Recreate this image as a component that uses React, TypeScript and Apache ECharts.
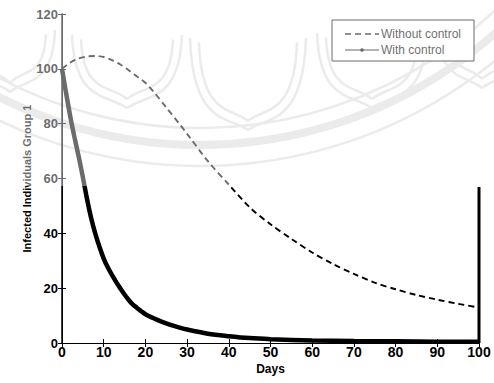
import React, { useEffect, useRef } from "react";
import * as echarts from "echarts";

// Infected individuals in group 1 over 100 days
const daysWithout = [0, 2, 4, 6, 8, 10, 12, 14, 16, 18, 20, 22, 25, 28, 30, 35, 40, 45, 50, 55, 60, 65, 70, 75, 80, 85, 90, 95, 100];
const withoutControl = [100, 102.3, 103.8, 104.5, 104.7, 104.3, 103.2, 101.6, 99.5, 97.2, 94.9, 91.6, 85.9, 80.2, 76.3, 66.3, 57.8, 49.5, 43.3, 38, 33, 28.8, 25.2, 22, 19.6, 17.5, 15.8, 14.3, 12.9];

const daysWith = [0, 1, 2, 3, 4, 5, 6, 7, 8, 9, 10, 11, 12, 13, 14, 15, 16, 17, 18, 19, 20, 22, 24, 26, 28, 30, 35, 40, 45, 50, 60, 70, 80, 90, 100];
const withControl = [100, 91, 82.5, 75, 68, 60.5, 52.5, 45.5, 39.8, 35, 30.8, 27.5, 24.8, 22.2, 19.9, 17.7, 15.7, 14, 12.8, 11.6, 10.5, 9.0, 7.7, 6.6, 5.7, 4.9, 3.4, 2.5, 1.8, 1.4, 0.9, 0.7, 0.6, 0.5, 0.5];

const seriesNames = ["Without control", "With control"];
const xTitle = "Days";
const yTitle = "Infected Individuals Group 1";

const FONT = "Liberation Sans, Arial, sans-serif";

// faint seal pattern in the upper background
function sealGraphics(): any[] {
  const stroke = "#dcdcdc";
  const els: any[] = [];
  const cx = 200;
  const cy = -300;
  [
    { r: 445, w: 8 },
    { r: 428, w: 2.5 },
    { r: 466, w: 2.5 },
  ].forEach((b) =>
    els.push({
      type: "arc",
      silent: true,
      z: 0,
      shape: { cx, cy, r: b.r, startAngle: 0.6, endAngle: 2.55 },
      style: { stroke, lineWidth: b.w, fill: null },
    })
  );
  const petals = [
    [10, 30, 92, 45],
    [127, 35, 108, 55],
    [248, 38, 130, 58],
    [372, 33, 108, 55],
    [482, 25, 88, 45],
  ];
  petals.forEach(([px, top, bottom, hw]) => {
    [0, 9].forEach((inset) => {
      const t = top + inset * 0.5;
      const b = bottom - inset;
      const w = hw - inset;
      els.push({
        type: "bezierCurve",
        silent: true,
        z: 0,
        shape: { x1: px - w, y1: t, cpx1: px - w * 0.95, cpy1: b - 5, cpx2: px - w * 0.35, cpy2: b - 14, x2: px, y2: b },
        style: { stroke, lineWidth: 2.5, fill: null },
      });
      els.push({
        type: "bezierCurve",
        silent: true,
        z: 0,
        shape: { x1: px + w, y1: t, cpx1: px + w * 0.95, cpy1: b - 5, cpx2: px + w * 0.35, cpy2: b - 14, x2: px, y2: b },
        style: { stroke, lineWidth: 2.5, fill: null },
      });
    });
  });
  return els;
}

function legendGraphics(): any[] {
  return [
    {
      type: "rect",
      z: 50,
      shape: { x: 332, y: 20, width: 142, height: 41 },
      style: { fill: "#fff", stroke: "#000", lineWidth: 1 },
    },
    {
      type: "line",
      z: 51,
      shape: { x1: 345, y1: 34, x2: 379, y2: 34 },
      style: { stroke: "#000", lineWidth: 1.6, lineDash: [6, 4] },
    },
    {
      type: "text",
      z: 51,
      style: { x: 381, y: 34, text: seriesNames[0], fill: "#000", font: `12px ${FONT}`, textVerticalAlign: "middle" },
    },
    {
      type: "line",
      z: 51,
      shape: { x1: 345, y1: 50, x2: 379, y2: 50 },
      style: { stroke: "#000", lineWidth: 1.2 },
    },
    {
      type: "circle",
      z: 51,
      shape: { cx: 362, cy: 50, r: 1.8 },
      style: { fill: "#000" },
    },
    {
      type: "text",
      z: 51,
      style: { x: 381, y: 50, text: seriesNames[1], fill: "#000", font: `12px ${FONT}`, textVerticalAlign: "middle" },
    },
  ];
}

export default function App() {
  const ref = useRef<HTMLDivElement>(null);

  useEffect(() => {
    if (!ref.current) return;
    const chart = echarts.init(ref.current, null, { renderer: "svg" });

    const tickLabel = { color: "#000", fontFamily: FONT, fontWeight: "bold" as const };
    const axisLine = { show: true, lineStyle: { color: "#000", width: 1 } };
    const axisTick = { show: true, inside: true, length: 4, lineStyle: { color: "#000", width: 1 } };

    chart.setOption({
      animation: false,
      backgroundColor: "#fff",
      grid: { left: 62, right: 15, top: 14, bottom: 40, containLabel: false },
      xAxis: [
        {
          type: "value",
          position: "bottom",
          min: 0,
          max: 100,
          interval: 10,
          axisLine,
          axisTick,
          splitLine: { show: false },
          axisLabel: { ...tickLabel, fontSize: 14, margin: 2 },
          name: xTitle,
          nameLocation: "middle",
          nameGap: 20,
          nameMoveOverlap: false,
          nameTextStyle: { color: "#000", fontFamily: FONT, fontSize: 12, fontWeight: "bold" },
        },
        {
          type: "value",
          position: "top",
          min: 0,
          max: 100,
          interval: 10,
          axisLine,
          axisTick,
          splitLine: { show: false },
          axisLabel: { show: false },
        },
      ],
      yAxis: [
        {
          type: "value",
          position: "left",
          min: 0,
          max: 120,
          interval: 20,
          axisLine,
          axisTick,
          splitLine: { show: false },
          axisLabel: { ...tickLabel, fontSize: 13, margin: 4 },
          name: yTitle,
          nameLocation: "middle",
          nameRotate: 90,
          nameGap: 30,
          nameMoveOverlap: false,
          nameTextStyle: { color: "#000", fontFamily: FONT, fontSize: 11, fontWeight: "bold" },
        },
        {
          type: "value",
          position: "right",
          min: 0,
          max: 120,
          interval: 20,
          axisLine: { show: true, lineStyle: { color: "#000", width: 1.5 } },
          axisTick,
          splitLine: { show: false },
          axisLabel: { show: false },
        },
      ],
      series: [
        {
          name: seriesNames[0],
          type: "line",
          xAxisIndex: 0,
          yAxisIndex: 0,
          data: daysWithout.map((d, i) => [d, withoutControl[i]]),
          smooth: 0.3,
          symbol: "none",
          lineStyle: { color: "#000", width: 1.9, type: [6, 4] },
          z: 3,
        },
        {
          name: seriesNames[1],
          type: "line",
          xAxisIndex: 0,
          yAxisIndex: 0,
          data: daysWith.map((d, i) => [d, withControl[i]]),
          smooth: 0.3,
          symbol: "none",
          clip: false,
          lineStyle: { color: "#000", width: 4.5 },
          z: 4,
        },
      ],
      graphic: [
        ...sealGraphics(),
        ...legendGraphics(),
        {
          type: "line",
          z: 60,
          silent: true,
          shape: { x1: 479, y1: 187, x2: 479, y2: 343 },
          style: { stroke: "#000", lineWidth: 3 },
        },
        {
          type: "rect",
          z: 100,
          silent: true,
          shape: { x: 0, y: 0, width: 494, height: 186 },
          style: { fill: "rgba(255,255,255,0.42)" },
        },
      ],
    });

    return () => chart.dispose();
  }, []);

  return (
    <div
      ref={ref}
      style={{ position: "fixed", left: 0, top: 0, width: 494, height: 383, background: "#fff" }}
    />
  );
}
